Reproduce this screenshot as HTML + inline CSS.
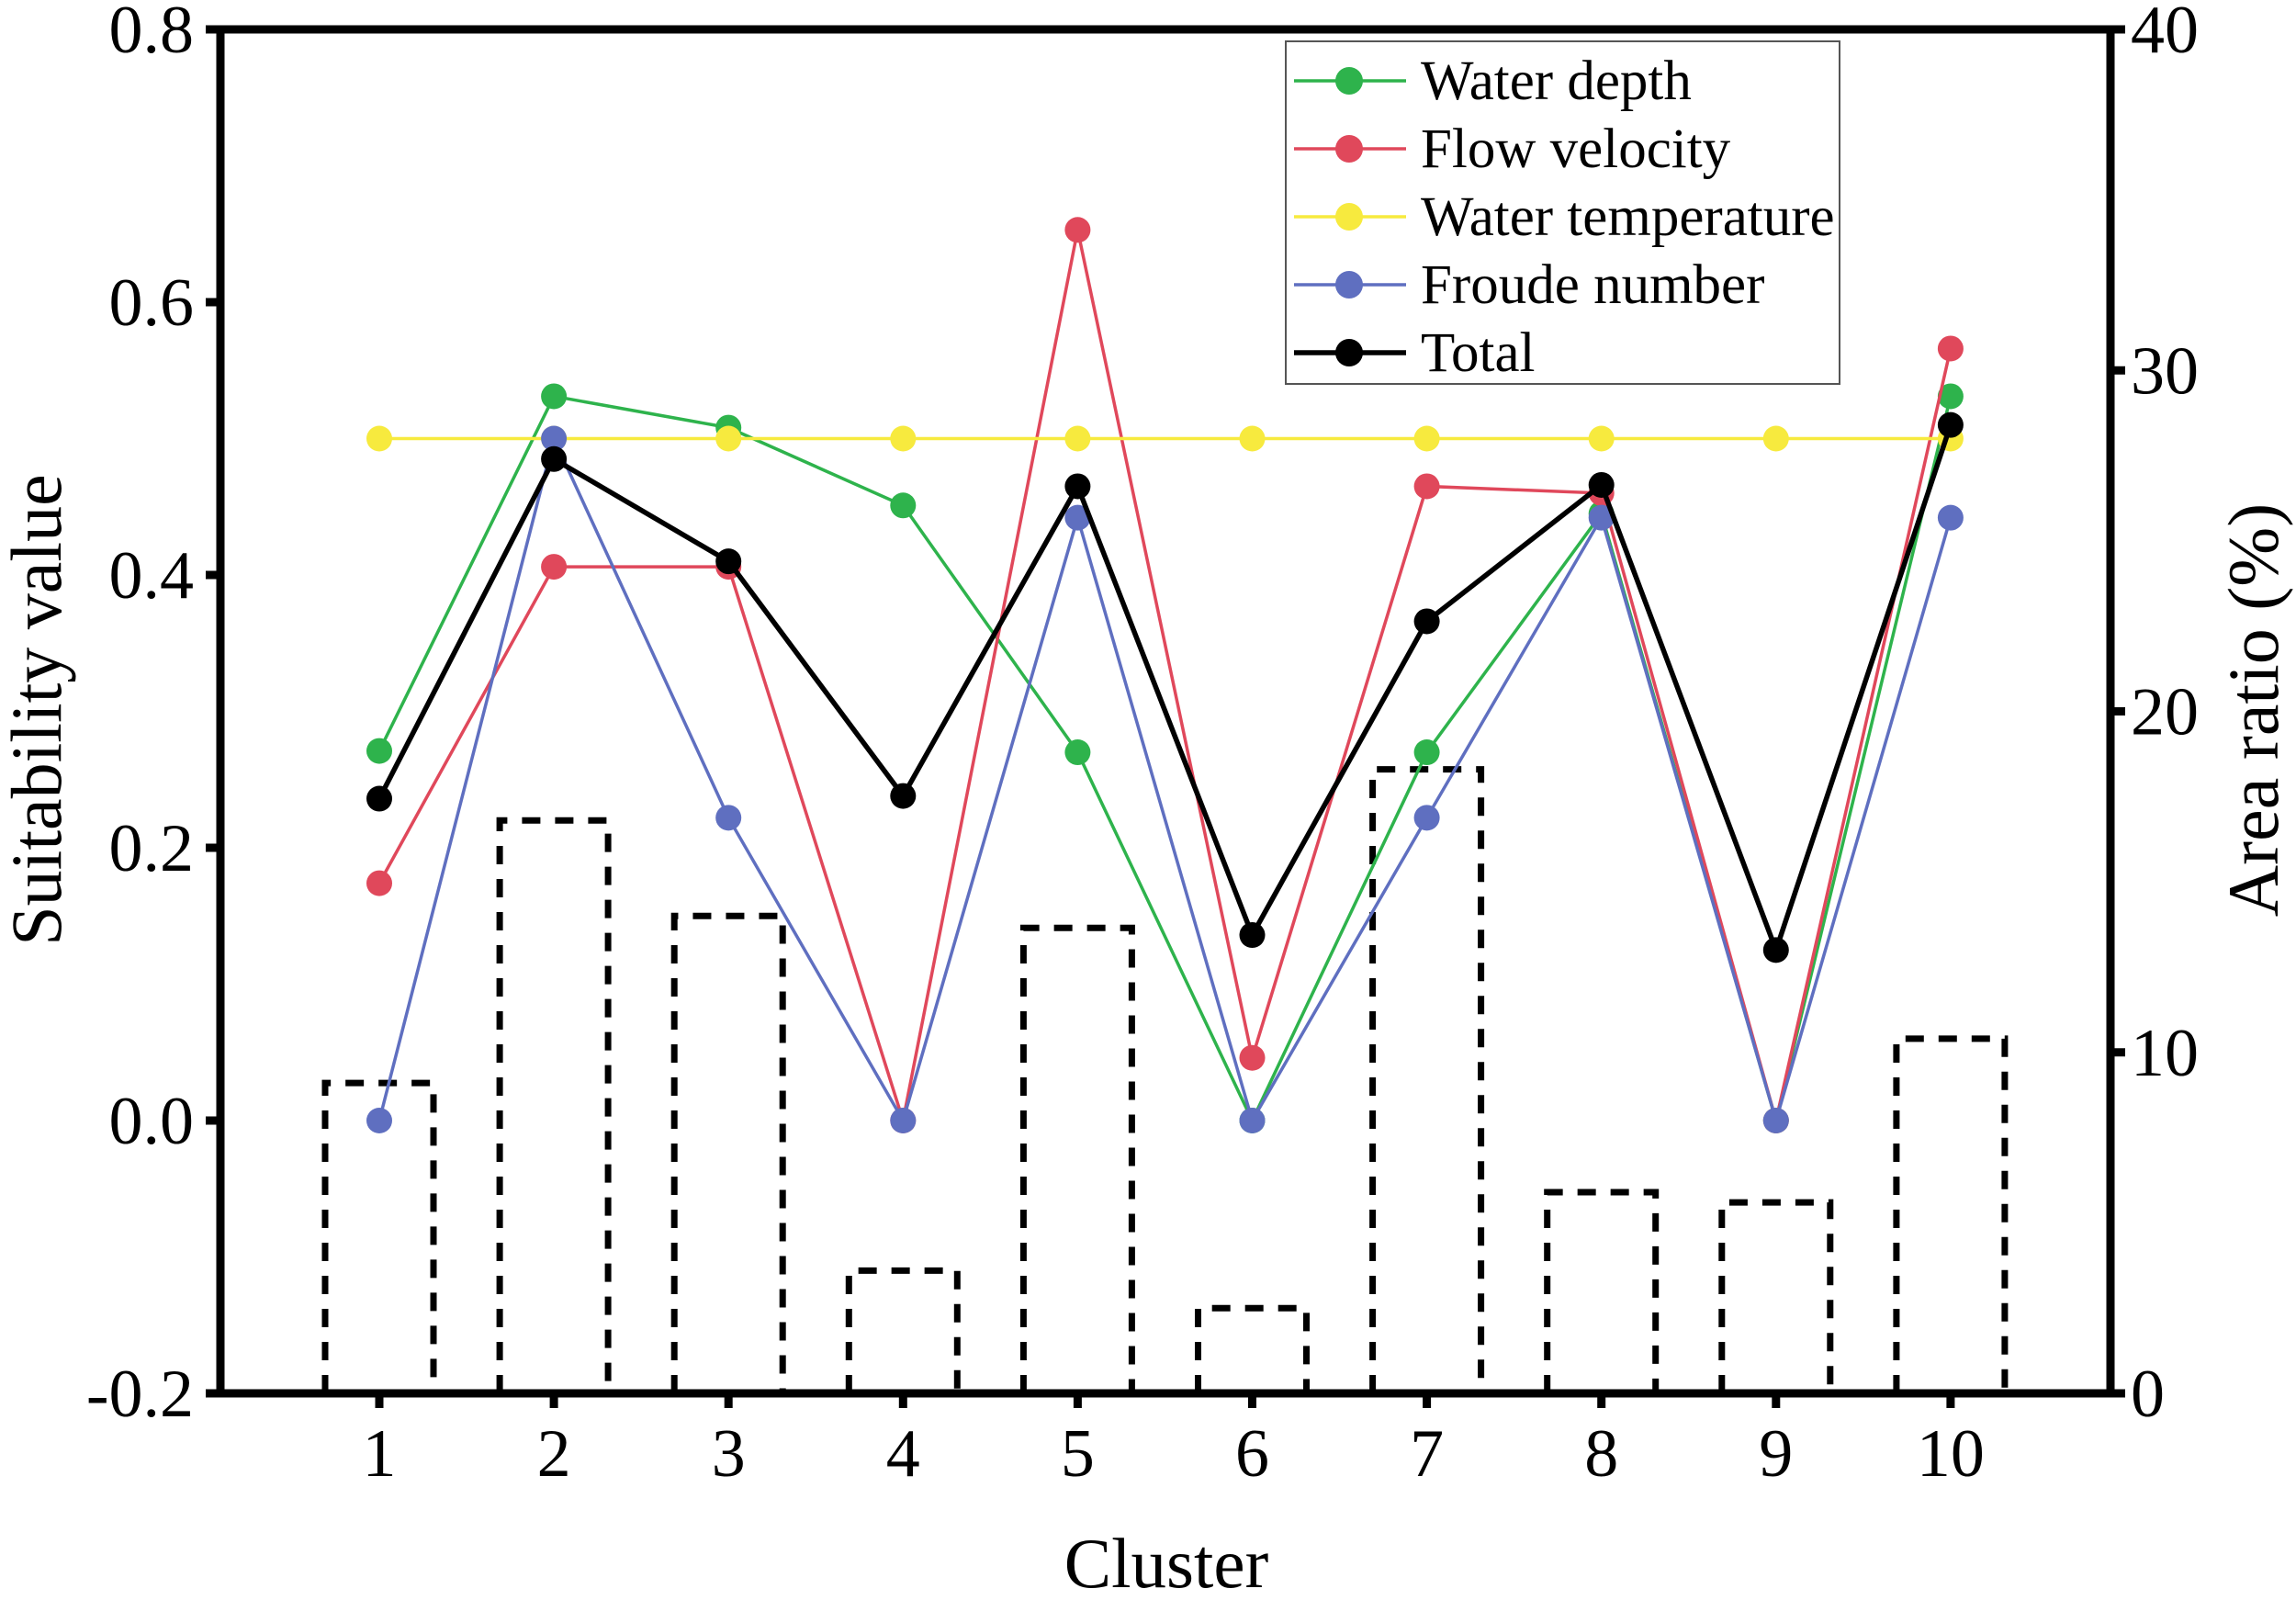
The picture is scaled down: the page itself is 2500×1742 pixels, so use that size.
<!DOCTYPE html>
<html><head><meta charset="utf-8"><style>
html,body{margin:0;padding:0;background:#fff;}
svg{display:block;font-family:"Liberation Serif",serif;}
</style></head><body>
<svg id="chart" width="2500" height="1742" viewBox="0 0 2500 1742" xmlns="http://www.w3.org/2000/svg">
<g id="bars"></g>
<g id="series"></g>
<g id="axes"></g>
</svg>
<script>
const clusters = [1,2,3,4,5,6,7,8,9,10];
const waterDepth = [0.271,0.531,0.508,0.451,0.270,0,0.270,0.445,0,0.531];
const flowVelocity = [0.174,0.406,0.406,0,0.653,0.046,0.465,0.460,0,0.566];
const waterTemp = [0.5,0.5,0.5,0.5,0.5,0.5,0.5,0.5,0.5,0.5];
const froude = [0,0.5,0.222,0,0.442,0,0.222,0.442,0,0.442];
const total = [0.236,0.485,0.410,0.238,0.465,0.136,0.366,0.466,0.125,0.510];
const areaRatio = [9.1,16.8,14.0,3.6,13.65,2.5,18.3,5.9,5.6,10.4];
const leftTicks = [-0.2,0.0,0.2,0.4,0.6,0.8];
const leftTickLabels = ["-0.2","0.0","0.2","0.4","0.6","0.8"];
const rightTicks = [0,10,20,30,40];

const NS="http://www.w3.org/2000/svg";
const L=240,R=2298,T=32,B=1517;
const xs=c=>413+(c-1)*190.1;
const yl=v=>B-(v+0.2)/1.0*(B-T);
const yr=v=>B-v/40*(B-T);
function mk(tag,attrs,parent){const e=document.createElementNS(NS,tag);for(const k in attrs)e.setAttribute(k,attrs[k]);parent.appendChild(e);return e;}
const gBars=document.getElementById('bars'),gS=document.getElementById('series'),gA=document.getElementById('axes'),svg=document.getElementById('chart');

clusters.forEach((c,i)=>{
  const x0=xs(c)-59,x1=xs(c)+59,yt=yr(areaRatio[i]);
  const p=mk('path',{d:`M${x0},${B} L${x0},${yt} L${x1},${yt} L${x1},${B}`,fill:'none',stroke:'#000','stroke-width':7,'stroke-dasharray':'20,16'},gBars);
  
  
});

const series=[
 {name:'water-depth',label:'Water depth',data:waterDepth,color:'#2eb34c',w:3.5},
 {name:'flow-velocity',label:'Flow velocity',data:flowVelocity,color:'#e0485b',w:3.5},
 {name:'water-temperature',label:'Water temperature',data:waterTemp,color:'#f7ea3e',w:3.5},
 {name:'froude-number',label:'Froude number',data:froude,color:'#5f6fc0',w:3.5},
 {name:'total',label:'Total',data:total,color:'#000',w:5.5}
];
series.forEach(s=>{
  const g=mk('g',{},gS);
  
  
  const pts=s.data.map((v,i)=>xs(clusters[i])+','+yl(v)).join(' ');
  const pl=mk('polyline',{points:pts,fill:'none',stroke:s.color,'stroke-width':s.w},g);
  
  
  s.data.forEach((v,i)=>{
    const c=mk('circle',{cx:xs(clusters[i]),cy:yl(v),r:14,fill:s.color},g);
    
    
  });
});

const frame=mk('path',{d:`M${L},${B} L${L},${T} L${R},${T} L${R},${B} Z`,fill:'none',stroke:'#000','stroke-width':9},gA);


leftTicks.forEach((v,i)=>{
  const y=yl(v);
  const t=mk('line',{x1:L-16,x2:L,y1:y,y2:y,stroke:'#000','stroke-width':9},gA);
  
  
  const tx=mk('text',{x:211,y:y+25,'text-anchor':'end','font-size':74},gA);
  tx.textContent=leftTickLabels[i];
  
  
});
rightTicks.forEach(v=>{
  const y=yr(v);
  const t=mk('line',{x1:R,x2:R+16,y1:y,y2:y,stroke:'#000','stroke-width':9},gA);
  
  
  const tx=mk('text',{x:2320,y:y+25,'text-anchor':'start','font-size':74},gA);
  tx.textContent=String(v);
  
  
});
clusters.forEach(c=>{
  const x=xs(c);
  const t=mk('line',{x1:x,x2:x,y1:B,y2:B+16,stroke:'#000','stroke-width':9},gA);
  
  
  const tx=mk('text',{x:x,y:1607,'text-anchor':'middle','font-size':74},gA);
  tx.textContent=String(c);
  
  
});
let t=mk('text',{x:1270,y:1728,'text-anchor':'middle','font-size':77},gA);
t.textContent='Cluster';


t=mk('text',{x:0,y:0,'text-anchor':'middle','font-size':78,transform:'translate(66,773) rotate(-90)'},gA);
t.textContent='Suitability value';


t=mk('text',{x:0,y:0,'text-anchor':'middle','font-size':78,transform:'translate(2480,773) rotate(-90)'},gA);
t.textContent='Area ratio (%)';



const lg=mk('g',{},svg);


mk('rect',{x:1400,y:45,width:603,height:373,fill:'#fff',stroke:'#555','stroke-width':2},lg);
series.forEach((s,i)=>{
  const y=88+i*74;
  const g=mk('g',{},lg);
  
  
  mk('line',{x1:1409,x2:1531,y1:y,y2:y,stroke:s.color,'stroke-width':s.w},g);
  mk('circle',{cx:1469,cy:y,r:15,fill:s.color},g);
  const tx=mk('text',{x:1547,y:y+20,'font-size':61},g);
  tx.textContent=s.label;
});
</script>
</body></html>
